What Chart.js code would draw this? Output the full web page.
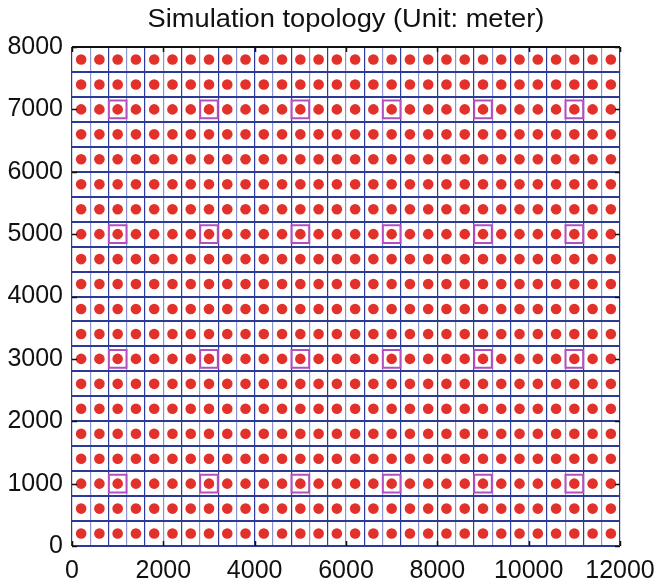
<!DOCTYPE html>
<html>
<head>
<meta charset="utf-8">
<script src="https://cdn.jsdelivr.net/npm/chart.js@4/dist/chart.umd.min.js"></script>
<style>
  html, body { margin: 0; padding: 0; background: #fff; }
  #wrap { width: 657px; height: 584px; }
</style>
</head>
<body>
<div id="wrap"><canvas id="topo"></canvas></div>
<script>
// node positions (cell centres, metres)
const nodeX = [200, 600, 1000, 1400, 1800, 2200, 2600, 3000, 3400, 3800,
               4200, 4600, 5000, 5400, 5800, 6200, 6600, 7000, 7400, 7800,
               8200, 8600, 9000, 9400, 9800, 10200, 10600, 11000, 11400, 11800];
const nodeY = [200, 600, 1000, 1400, 1800, 2200, 2600, 3000, 3400, 3800,
               4200, 4600, 5000, 5400, 5800, 6200, 6600, 7000, 7400, 7800];
// cluster heads
const headX = [1000, 3000, 5000, 7000, 9000, 11000];
const headY = [1000, 3000, 5000, 7000];
// cell borders and tick labels
const cellEdgesX = [0, 400, 800, 1200, 1600, 2000, 2400, 2800, 3200, 3600, 4000,
                    4400, 4800, 5200, 5600, 6000, 6400, 6800, 7200, 7600, 8000,
                    8400, 8800, 9200, 9600, 10000, 10400, 10800, 11200, 11600, 12000];
const cellEdgesY = [0, 400, 800, 1200, 1600, 2000, 2400, 2800, 3200, 3600, 4000,
                    4400, 4800, 5200, 5600, 6000, 6400, 6800, 7200, 7600, 8000];
const xLabels = [0, 2000, 4000, 6000, 8000, 10000, 12000];
const yLabels = [0, 1000, 2000, 3000, 4000, 5000, 6000, 7000, 8000];
const titleText = 'Simulation topology (Unit: meter)';

const nodes = [];
nodeY.forEach(y => nodeX.forEach(x => nodes.push({ x: x, y: y })));
const heads = [];
headY.forEach(y => headX.forEach(x => heads.push({ x: x, y: y })));

const FONT = 'Arial, "Liberation Sans", Helvetica, sans-serif';

function mergedTicks(edges, labels) {
    const vals = Array.from(new Set(edges.concat(labels))).sort((a, b) => a - b);
    return vals.map(v => ({ value: v }));
}

// title centred over the plot, inward tick marks, black top border
const frame = {
    id: 'frame',
    afterDraw(chart) {
        const { ctx, chartArea: a, scales } = chart;
        ctx.save();
        ctx.fillStyle = '#111';
        ctx.font = '25px ' + FONT;
        ctx.textAlign = 'center';
        ctx.textBaseline = 'alphabetic';
        ctx.translate((a.left + a.right) / 2, 27);
        ctx.scale(1.09, 1);
        ctx.fillText(titleText, 0, 0);
        ctx.restore();

        ctx.save();
        ctx.strokeStyle = '#111';
        ctx.lineWidth = 2;
        ctx.beginPath();
        ctx.moveTo(a.left, a.top);
        ctx.lineTo(a.right, a.top);
        ctx.stroke();
        ctx.lineWidth = 1.5;
        ctx.beginPath();
        xLabels.forEach(v => {
            const px = Math.round(scales.x.getPixelForValue(v)) + 0.5;
            ctx.moveTo(px, a.bottom); ctx.lineTo(px, a.bottom - 5);
            ctx.moveTo(px, a.top); ctx.lineTo(px, a.top + 5);
        });
        yLabels.forEach(v => {
            const py = Math.round(scales.y.getPixelForValue(v)) + 0.5;
            ctx.moveTo(a.left, py); ctx.lineTo(a.left + 5, py);
            ctx.moveTo(a.right, py); ctx.lineTo(a.right - 5, py);
        });
        ctx.stroke();
        ctx.restore();
    }
};

new Chart(document.getElementById('topo'), {
    type: 'scatter',
    data: {
        datasets: [
            {
                label: 'Cluster head',
                data: heads,
                pointStyle: 'rect',
                pointRadius: 12.5,
                backgroundColor: 'rgba(0,0,0,0)',
                borderColor: '#b44fbf',
                borderWidth: 2,
                order: 2
            },
            {
                label: 'Node',
                data: nodes,
                pointRadius: 5.3,
                backgroundColor: '#e2312a',
                borderWidth: 0,
                order: 1
            }
        ]
    },
    options: {
        responsive: true,
        maintainAspectRatio: false,
        animation: false,
        events: [],
        layout: { padding: { left: 0, right: 37, top: 47, bottom: 0 } },
        plugins: {
            legend: { display: false },
            tooltip: { enabled: false },
            title: { display: false }
        },
        scales: {
            x: {
                type: 'linear',
                min: 0, max: 12000,
                border: { display: false },
                afterBuildTicks: s => { s.ticks = mergedTicks(cellEdgesX, xLabels); },
                afterFit: s => { s.height = 38; s.paddingLeft = 0; s.paddingRight = 0; },
                grid: {
                    drawTicks: false,
                    lineWidth: 1.2,
                    color: c => {
                        const v = c.tick.value;
                        if (v % 400 !== 0) return 'rgba(0,0,0,0)';
                        if (v === 0 || v === 12000) return '#2b3a96';
                        return (v / 400) % 2 === 0 ? '#2d3d9c' : '#8d96cf';
                    }
                },
                ticks: {
                    autoSkip: false,
                    maxRotation: 0,
                    padding: 10,
                    color: '#111',
                    font: { family: FONT, size: 25 },
                    callback: v => xLabels.includes(v) ? String(v) : ''
                }
            },
            y: {
                type: 'linear',
                min: 0, max: 8000,
                border: { display: false },
                afterBuildTicks: s => { s.ticks = mergedTicks(cellEdgesY, yLabels); },
                afterFit: s => { s.width = 72; s.paddingTop = 0; s.paddingBottom = 0; },
                grid: {
                    drawTicks: false,
                    lineWidth: 2,
                    color: c => {
                        const v = c.tick.value;
                        if (v % 400 !== 0) return 'rgba(0,0,0,0)';
                        return '#2b3a96';
                    }
                },
                ticks: {
                    autoSkip: false,
                    padding: 9,
                    color: '#111',
                    font: { family: FONT, size: 25 },
                    callback: v => yLabels.includes(v) ? String(v) : ''
                }
            }
        }
    },
    plugins: [frame]
});
</script>
</body>
</html>
